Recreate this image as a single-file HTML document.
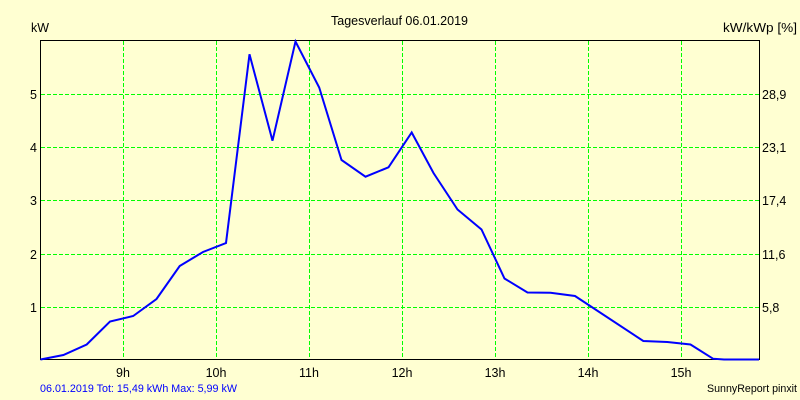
<!DOCTYPE html>
<html>
<head>
<meta charset="utf-8">
<style>
html,body{margin:0;padding:0;background:#FFFFD2;}
svg{display:block;}
text{font-family:"Liberation Sans",Arial,sans-serif;fill:#000;}
</style>
</head>
<body>
<svg width="800" height="400" viewBox="0 0 800 400" xmlns="http://www.w3.org/2000/svg">
<rect x="0" y="0" width="800" height="400" fill="#FFFFD2"/>
<!-- grid -->
<g stroke="#00FF00" stroke-width="1" stroke-dasharray="4,2" fill="none">
<line x1="41" y1="94.5" x2="759" y2="94.5"/>
<line x1="41" y1="147.5" x2="759" y2="147.5"/>
<line x1="41" y1="200.5" x2="759" y2="200.5"/>
<line x1="41" y1="254.5" x2="759" y2="254.5"/>
<line x1="41" y1="307.5" x2="759" y2="307.5"/>
<line x1="123.5" y1="41" x2="123.5" y2="359"/>
<line x1="216.5" y1="41" x2="216.5" y2="359"/>
<line x1="309.5" y1="41" x2="309.5" y2="359"/>
<line x1="402.5" y1="41" x2="402.5" y2="359"/>
<line x1="495.5" y1="41" x2="495.5" y2="359"/>
<line x1="588.5" y1="41" x2="588.5" y2="359"/>
<line x1="681.5" y1="41" x2="681.5" y2="359"/>
</g>
<!-- axes frame -->
<rect x="40.5" y="40.5" width="719" height="319" fill="none" stroke="#000" stroke-width="1"/>
<!-- series -->
<polyline fill="none" stroke="#0000FF" stroke-width="2" stroke-linejoin="miter"
points="40.5,359.5 63.4,355 86.7,344.5 110,321.5 133.2,316 156.5,299 179.7,266 203,252 226,243 249.5,54.3 272.5,140.7 295.5,41.5 319.2,87.5 341.5,160 365.5,176.7 388.5,167.3 411.7,132.5 433.5,173 457.5,209.5 481.5,229.5 504.5,278.5 527.5,292.5 550.5,292.7 575,296 643.3,341 667.3,342 690.5,344.5 713,358.7 724,359.5 759,359.5"/>
<!-- titles -->
<text x="331" y="25" font-size="12.5" textLength="137" lengthAdjust="spacingAndGlyphs">Tagesverlauf 06.01.2019</text>
<text x="31" y="32" font-size="12.5" textLength="18" lengthAdjust="spacingAndGlyphs">kW</text>
<text x="723" y="32" font-size="12.5" textLength="74" lengthAdjust="spacingAndGlyphs">kW/kWp [%]</text>
<!-- left labels -->
<g font-size="12.5" text-anchor="end">
<text x="37" y="99">5</text>
<text x="37" y="152">4</text>
<text x="37" y="205">3</text>
<text x="37" y="259">2</text>
<text x="37" y="312">1</text>
</g>
<!-- right labels -->
<g font-size="12.5">
<text x="762" y="99">28,9</text>
<text x="762" y="152">23,1</text>
<text x="762" y="205">17,4</text>
<text x="762" y="259">11,6</text>
<text x="762" y="312">5,8</text>
</g>
<!-- x labels -->
<g font-size="12.5" text-anchor="middle">
<text x="123" y="377">9h</text>
<text x="216" y="377">10h</text>
<text x="309" y="377">11h</text>
<text x="402" y="377">12h</text>
<text x="495" y="377">13h</text>
<text x="588" y="377">14h</text>
<text x="681" y="377">15h</text>
</g>
<!-- footer -->
<text x="40" y="392" font-size="11" fill="#0000FF" style="fill:#0000FF" textLength="197" lengthAdjust="spacingAndGlyphs">06.01.2019 Tot: 15,49 kWh Max: 5,99 kW</text>
<text x="707" y="392" font-size="11" textLength="90" lengthAdjust="spacingAndGlyphs">SunnyReport pinxit</text>
</svg>
</body>
</html>
